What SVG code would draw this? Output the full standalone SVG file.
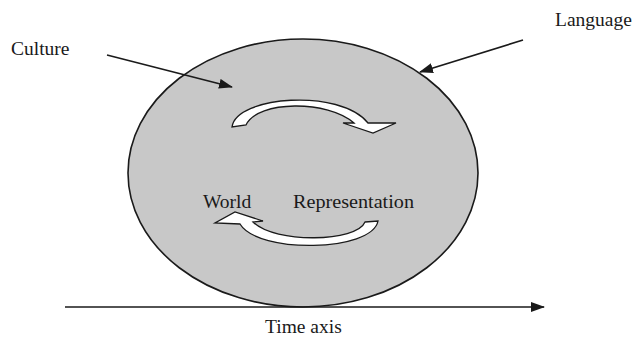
<svg xmlns="http://www.w3.org/2000/svg" width="636" height="341" viewBox="0 0 636 341">
<style>
text{font-family:"Liberation Serif","Times New Roman",Times,serif;font-size:19.5px;fill:#1a1a1a}
.ln{stroke:#1a1a1a;stroke-width:1.6;fill:none}
.blk{fill:#fff;stroke:#1a1a1a;stroke-width:1.3;stroke-linejoin:miter}
</style>
<defs>
<marker id="ah" viewBox="0 0 14 10" refX="13" refY="5" markerWidth="14" markerHeight="10" markerUnits="userSpaceOnUse" orient="auto">
<path d="M0,0 L14,5 L0,10 Z" fill="#1a1a1a"/>
</marker>
</defs>
<rect width="636" height="341" fill="#fff"/>
<g id="ellipse">
<ellipse cx="303" cy="173" rx="175" ry="134" fill="#c8c8c8" stroke="#1a1a1a" stroke-width="1.6"/>
</g>
<g id="cycle-top">
<path class="blk" d="M232,127 C236,96 340,88 368,123 L396,123 L373,133 L343,123 L354,123 C328,100 258,100 246,125 Z"/>
</g>
<g id="cycle-bottom">
<path class="blk" d="M365,222 L378,221 C372,252 258,254 240,224 L215,223 L235,212 L263,221 L253,222 C275,244 357,242 365,222 Z"/>
</g>
<g id="culture"><text x="11" y="55" font-family="Liberation Serif, serif">Culture</text></g>
<g id="language"><text x="555" y="26" font-family="Liberation Serif, serif">Language</text></g>
<g id="world"><text x="203" y="208" font-family="Liberation Serif, serif">World</text></g>
<g id="representation"><text x="293" y="208" font-family="Liberation Serif, serif" textLength="121" lengthAdjust="spacingAndGlyphs">Representation</text></g>
<g id="time-axis-label"><text x="265" y="333" font-family="Liberation Serif, serif">Time axis</text></g>
<g id="connectors">
<line class="ln" x1="107" y1="55" x2="232" y2="87" marker-end="url(#ah)"/>
<line class="ln" x1="523" y1="40" x2="420" y2="72" marker-end="url(#ah)"/>
<line class="ln" x1="65" y1="307" x2="544" y2="307" marker-end="url(#ah)"/>
</g>
</svg>
